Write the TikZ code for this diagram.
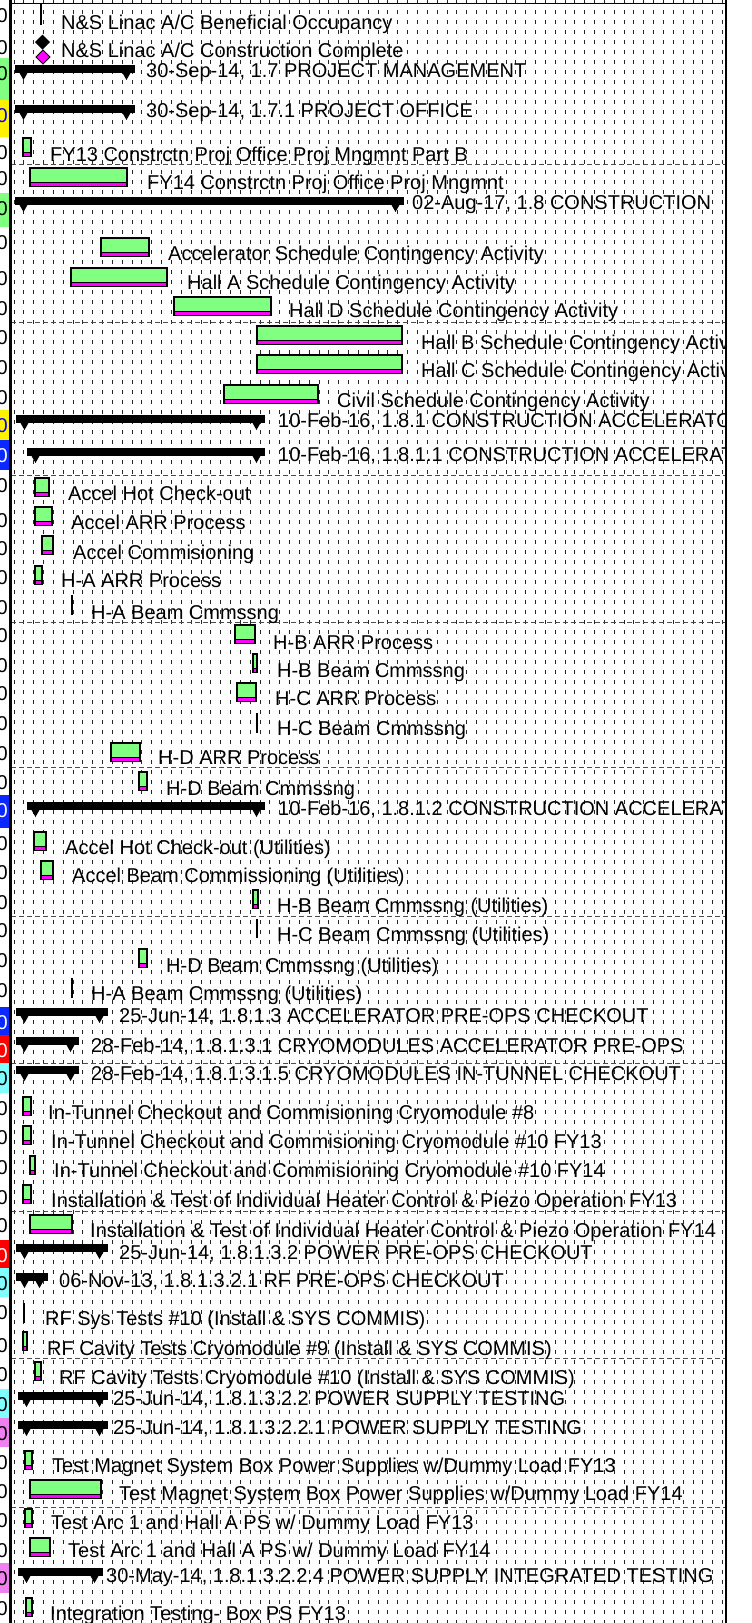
\documentclass[tikz,border=0pt]{standalone}
\usepackage{fontspec}
\setmainfont{Liberation Sans}
\definecolor{barGreen}{HTML}{80FF80}
\definecolor{barPink}{HTML}{FF00FF}
\definecolor{cellGreen}{HTML}{80FF80}
\definecolor{cellBlue}{HTML}{0A28FF}
\definecolor{cellCyan}{HTML}{80FFFF}
\definecolor{cellPink}{HTML}{F080F0}
\tikzset{
	every node/.append style={font=\fontsize{20}{24}\selectfont, inner sep=0pt},
	lbl/.style={anchor=base west},
	gridline/.style={black!85, line width=0.9pt, dash pattern=on 4pt off 6pt},
	sepline/.style={black!70, line width=0.8pt, dash pattern=on 5pt off 3pt},
	barframe/.style={draw=black, line width=1.2pt},
}

\begin{document}
\begin{tikzpicture}[x=1pt,y=-1pt]
	\useasboundingbox (0,0) rectangle (752,1623);
	% left column
	\foreach \ta/\tb/\cf/\cd [count=\i] in {0/32/white/black, 32/58/white/black, 58/100/cellGreen/black,
		100/137/yellow/blue, 137/163/white/black, 163/193/white/black, 193/227/cellGreen/black,
		227/263/white/black, 263/293/white/black, 293/322/white/black, 322/352/white/black,
		352/382/white/black, 382/410/white/black, 410/440/yellow/blue, 440/470/cellBlue/white,
		470/505/white/black, 505/533/white/black, 533/562/white/black, 562/592/white/black,
		592/620/white/black, 620/650/white/black, 650/678/white/black, 678/708/white/black,
		708/738/white/black, 738/767/white/black, 767/795/white/black, 795/828/cellBlue/white,
		828/857/white/black, 857/887/white/black, 887/915/white/black, 915/945/white/black,
		945/975/white/black, 975/1007/white/black, 1007/1035/cellBlue/white, 1035/1063/red/white,
		1063/1093/cellCyan/black, 1093/1122/white/black, 1122/1152/white/black, 1152/1182/white/black,
		1182/1210/white/black, 1210/1240/white/black, 1240/1268/red/white, 1268/1297/cellCyan/black,
		1297/1330/white/black, 1330/1359/white/black, 1359/1389/white/black, 1389/1418/cellCyan/black,
		1418/1447/cellPink/black, 1447/1476/white/black, 1476/1505/white/black, 1505/1535/white/black,
		1535/1563/white/black, 1563/1593/cellPink/black, 1593/1623/white/black}
	{
		\fill[\cf] (0,\ta) rectangle (9.5,\tb);
		\draw[black!25, line width=0.8pt] (0,\tb) -- (9.5,\tb);
		\node[anchor=base east, text=\cd] (cell\i) at (8,\ta+22) {0};
	}
	\begin{scope}
		\clip (11,0) rectangle (725,1623);
		\foreach \k in {0,...,72}
			\draw[gridline] ({14+9.84*\k},0) -- ({14+9.84*\k},1623);
		\foreach \y in {164,322,475,622,767,916,1063,1211,1358,1507}
			\draw[sepline] (11,\y) -- (725,\y);
		% tasks
		\foreach \xa/\xb/\ya/\lx/\ly/\txt [count=\i] in {
			23/31/138/50/161/{FY13 Constrctn Proj Office Proj Mngmnt Part B},
			30/127/168/147/189/{FY14 Constrctn Proj Office Proj Mngmnt},
			101/149/238/168/260/{Accelerator Schedule Contingency Activity},
			71/167/268/187/289/{Hall A Schedule Contingency Activity},
			174/271/297/289/317/{Hall D Schedule Contingency Activity},
			257/402/326/421/349/{Hall B Schedule Contingency Activity},
			257/402/355/421/377/{Hall C Schedule Contingency Activity},
			224/318/385/337/407/{Civil Schedule Contingency Activity},
			35/49/478/68/500/{Accel Hot Check-out},
			35/52/507/71/529/{Accel ARR Process},
			42/53/536/73/559/{Accel Commisioning},
			35/42/566/61/587/{H-A ARR Process},
			235/255/625/273/649/{H-B ARR Process},
			253/257/654/277/677/{H-B Beam Cmmssng},
			237/256/683/275/705/{H-C ARR Process},
			111/140/743/158/764/{H-D ARR Process},
			139/147/772/166/795/{H-D Beam Cmmssng},
			34/46/832/65/854/{Accel Hot Check-out  (Utilities)},
			41/53/861/72/882/{Accel Beam Commissioning (Utilities)},
			253/258/890/277/912/{H-B Beam Cmmssng (Utilities)},
			139/147/949/166/972/{H-D Beam Cmmssng (Utilities)},
			23/31/1097/48/1119/{In-Tunnel Checkout and Commisioning Cryomodule \#8},
			23/31/1126/51/1148/{In-Tunnel Checkout and Commisioning Cryomodule \#10 FY13},
			30/35/1156/54/1177/{In-Tunnel Checkout and Commisioning Cryomodule \#10 FY14},
			23/31/1185/51/1207/{Installation \& Test of Individual Heater Control \& Piezo Operation FY13},
			30/72/1215/90/1237/{Installation \& Test of Individual Heater Control \& Piezo Operation FY14},
			23/27/1332/47/1355/{RF Cavity Tests Cryomodule \#9 (Install \& SYS COMMIS)},
			35/41/1362/59/1384/{RF Cavity Tests Cryomodule \#10 (Install \& SYS COMMIS)},
			25/32/1451/52/1472/{Test Magnet System Box Power Supplies w/Dummy Load FY13},
			30/101/1480/119/1500/{Test Magnet System Box Power Supplies w/Dummy Load FY14},
			25/32/1509/51/1529/{Test Arc 1 and Hall A PS w/ Dummy Load FY13},
			30/50/1538/68/1557/{Test Arc 1 and Hall A PS w/ Dummy Load FY14},
			26/32/1598/50/1620/{Integration Testing- Box PS FY13}}
		{
			\fill[barGreen] (\xa,\ya) rectangle (\xb,\ya+18.5);
			\fill[barPink] (\xa,\ya+14.5) rectangle (\xb,\ya+18.5);
			\draw[line width=0.8pt] (\xa,\ya+14.5) -- (\xb,\ya+14.5);
			\draw[barframe] (\xa,\ya) rectangle (\xb,\ya+18.5);
			\node[lbl] (task\i) at (\lx,\ly) {\txt};
		}
		% summary rows
		\foreach \xa/\xb/\ya/\lx/\ly/\txt [count=\i] in {
			15/135/65/146/77/{30-Sep-14, 1.7 PROJECT MANAGEMENT},
			15/135/105/146/117/{30-Sep-14, 1.7.1 PROJECT OFFICE},
			15/404/197/412/209/{02-Aug-17, 1.8 CONSTRUCTION},
			16/265/415/278/427/{10-Feb-16, 1.8.1 CONSTRUCTION ACCELERATOR},
			27/265/448/278/461/{10-Feb-16, 1.8.1.1 CONSTRUCTION ACCELERATOR},
			27/265/802/278/815/{10-Feb-16, 1.8.1.2 CONSTRUCTION ACCELERATOR},
			16/108/1008/119/1022/{25-Jun-14, 1.8.1.3 ACCELERATOR PRE-OPS CHECKOUT},
			16/79/1037/91/1052/{28-Feb-14, 1.8.1.3.1 CRYOMODULES ACCELERATOR PRE-OPS},
			16/79/1066/91/1080/{28-Feb-14, 1.8.1.3.1.5 CRYOMODULES IN-TUNNEL CHECKOUT},
			16/108/1244/119/1259/{25-Jun-14, 1.8.1.3.2 POWER PRE-OPS CHECKOUT},
			16/48/1273/59/1287/{06-Nov-13, 1.8.1.3.2.1 RF PRE-OPS CHECKOUT},
			18/108/1392/113/1405/{25-Jun-14, 1.8.1.3.2.2 POWER SUPPLY TESTING},
			18/108/1421/113/1434/{25-Jun-14, 1.8.1.3.2.2.1 POWER SUPPLY TESTING},
			18/103/1568/106/1582/{30-May-14, 1.8.1.3.2.2.4 POWER SUPPLY INTEGRATED TESTING}}
		{
			\fill (\xa,\ya) rectangle (\xb,\ya+7.5);
			\fill (\xa,\ya) -- (\xa+17,\ya) -- (\xa+8.5,\ya+15) -- cycle;
			\fill (\xb,\ya) -- (\xb-17,\ya) -- (\xb-8.5,\ya+15) -- cycle;
			\node[lbl] (summ\i) at (\lx,\ly) {\txt};
		}
		% milestones
		\foreach \x/\ya/\yb/\w/\lx/\ly/\txt [count=\i] in {
			41/3/25/2.7pt/61/29/{N\&S Linac A/C Beneficial Occupancy},
			72/595/615/1.3pt/91/619/{H-A Beam Cmmssng},
			257/713/733/2.7pt/277/735/{H-C Beam Cmmssng},
			257/919/938/2.7pt/277/941/{H-C Beam Cmmssng (Utilities)},
			72/978/998/1.3pt/91/1000/{H-A Beam Cmmssng (Utilities)},
			24/1303/1323/2.7pt/45/1325/{RF Sys Tests \#10 (Install \& SYS COMMIS)}}
		{
			\fill ({\x-0.5*\w},\ya) rectangle ({\x+0.5*\w},\yb);
			\node[lbl] (mile\i) at (\lx,\ly) {\txt};
		}
		\fill (42.5,34.5) -- (50,42) -- (42.5,49.5) -- (35,42) -- cycle;
		\filldraw[fill=barPink, draw=black, line width=1pt] (43,50) -- (50,57) -- (43,64) -- (36,57) -- cycle;
		\node[lbl] (done) at (61,57) {N\&S Linac A/C Construction Complete};
	\end{scope}
	\draw[line width=1.5pt] (10,3.5) -- (725.5,3.5);
	\draw[line width=2.3pt] (10.5,0) -- (10.5,1623);
	\draw[line width=2pt] (725.5,0) -- (725.5,1623);
\end{tikzpicture}
\end{document}
